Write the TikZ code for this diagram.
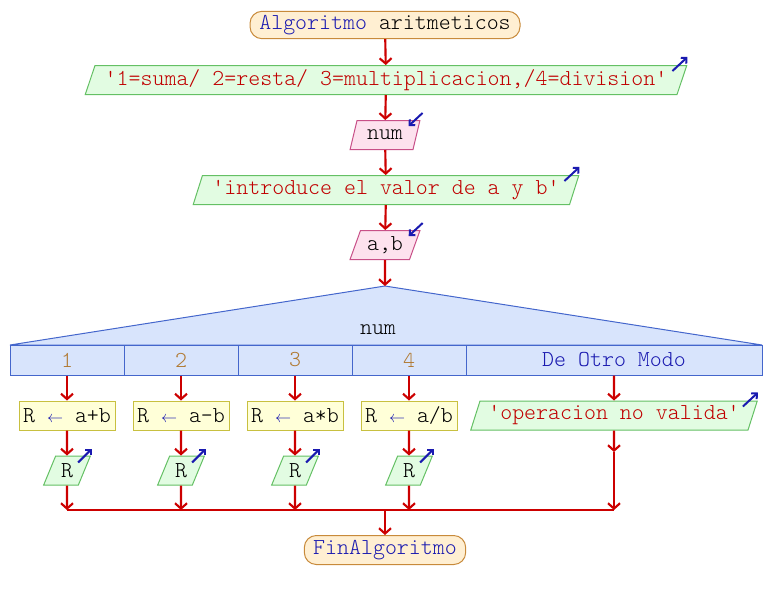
\documentclass[tikz,border=0pt]{standalone}
\usepackage{fontspec}
\setmonofont{Latin Modern Mono Light}
\usetikzlibrary{shapes.geometric,arrows.meta}

\definecolor{flowred}{HTML}{CC0000}
\definecolor{kwblue}{HTML}{1A1AB0}
\definecolor{strred}{HTML}{C00000}
\definecolor{numbrown}{HTML}{B07830}
\definecolor{termfill}{HTML}{FFEFD2}
\definecolor{termcol}{HTML}{C88A3A}
\definecolor{outfill}{HTML}{E2FCE2}
\definecolor{outcol}{HTML}{64C064}
\definecolor{infill}{HTML}{FDE2EE}
\definecolor{incol}{HTML}{C85088}
\definecolor{asgfill}{HTML}{FFFFD8}
\definecolor{asgcol}{HTML}{C8C040}
\definecolor{swfill}{HTML}{D8E4FC}
\definecolor{swcol}{HTML}{4466CC}

\newcommand{\q}{\textquotesingle}
\newcommand{\asgarrow}{\textcolor{kwblue}{\fontsize{13}{14}\selectfont$\leftarrow$}}

\begin{document}
\begin{tikzpicture}[
    x=0.75pt, y=-0.75pt,
    font=\ttfamily\fontsize{17.1}{18}\selectfont,
    term/.style={rectangle, rounded corners=9pt, draw=termcol, fill=termfill,
        line width=0.75pt, minimum height=20.5pt, inner sep=0pt},
    par/.style={trapezium, trapezium left angle=66, trapezium right angle=114,
        trapezium stretches=true, line width=0.75pt, minimum height=21.75pt,
        inner sep=0pt},
    outp/.style={par, draw=outcol, fill=outfill, text=strred},
    inp/.style={par, draw=incol, fill=infill},
    asg/.style={rectangle, draw=asgcol, fill=asgfill, line width=0.75pt,
        minimum height=21.75pt, minimum width=72pt, inner sep=0pt},
    cell/.style={rectangle, draw=swcol, fill=swfill, line width=0.75pt,
        minimum height=22.5pt, inner sep=0pt},
    flow/.style={flowred, line width=1.6pt, -{Straight Barb[length=4pt,width=9pt]}},
    flowline/.style={flowred, line width=1.6pt},
    io/.style={kwblue, line width=1.5pt, -{Straight Barb[length=3pt,width=6pt]}},
]
\useasboundingbox (0,0) rectangle (770,600);

% Start and first outputs
\node[term, minimum width=202.5pt] (inicio) at (385,25)
    {\textcolor{kwblue}{Algoritmo} aritmeticos};
\node[outp, minimum width=452pt] (msg1) at (386,80)
    {\q1=suma/ 2=resta/ 3=multiplicacion,/4=division\q};
\node[inp, minimum width=52.5pt] (num) at (385,135) {num};
\node[outp, minimum width=290pt] (msg2) at (386,190)
    {\q introduce el valor de a y b\q};
\node[inp, minimum width=52.5pt] (ab) at (385,245) {a,b};

\draw[flow] (inicio) -- (msg1);
\draw[flow] (msg1) -- (num);
\draw[flow] (num) -- (msg2);
\draw[flow] (msg2) -- (ab);

% io marks
\foreach \n in {msg1, msg2} {
    \draw[io] ([shift={(-15,6)}]\n.top right corner) -- ++(15,-14);
}
\foreach \n in {num, ab} {
    \draw[io] ([shift={(2,-7)}]\n.top right corner) -- ++(-14,13);
}

% Switch
\coordinate (sw) at (385,286);
\draw[swcol, fill=swfill, line width=0.75pt] (sw) -- (762,345) -- (10,345) -- cycle;
\node (selnum) at (378,330) {num};
\draw[flow] (ab) -- (sw);

\foreach \i/\x in {1/67, 2/181, 3/295, 4/409} {
    \node[cell, minimum width=85.5pt, text=numbrown] (c\i) at (\x,360) {\i};
}
\node[cell, minimum width=222pt, text=kwblue] (otro) at (614,360) {De Otro Modo};

% Branches
\foreach \i/\x/\op in {1/67/a+b, 2/181/a-b, 3/295/a*b, 4/409/{a/b}} {
    \node[asg] (a\i) at (\x,415.5) {R \asgarrow{} \op};
    \node[outp, minimum width=35pt, text=black] (r\i) at (\x,470.5) {R};
    \draw[flow] (c\i) -- (a\i);
    \draw[flow] (a\i) -- (r\i);
    \draw[io] ([shift={(-13,7)}]r\i.top right corner) -- ++(14,-14);
}
\node[outp, minimum width=215pt] (msg3) at (614,415.5) {\q operacion no valida\q};
\draw[flow] (otro) -- (msg3);
\draw[io] ([shift={(-15,6)}]msg3.top right corner) -- ++(15,-14);

% Join
\coordinate (join) at (385,510);
\coordinate (otromid) at (614,452);
\foreach \i in {1,...,4} {
    \draw[flow] (r\i) -- (r\i |- join);
}
\draw[flow] (msg3) -- (otromid);
\draw[flow] (otromid) -- (msg3 |- join);
\draw[flowline] (r1 |- join) -- (msg3 |- join);

% End
\node[term, minimum width=121pt, minimum height=21.75pt] (fin) at (385,550)
    {\textcolor{kwblue}{FinAlgoritmo}};
\draw[flow] (join) -- (fin);

\end{tikzpicture}
\end{document}
